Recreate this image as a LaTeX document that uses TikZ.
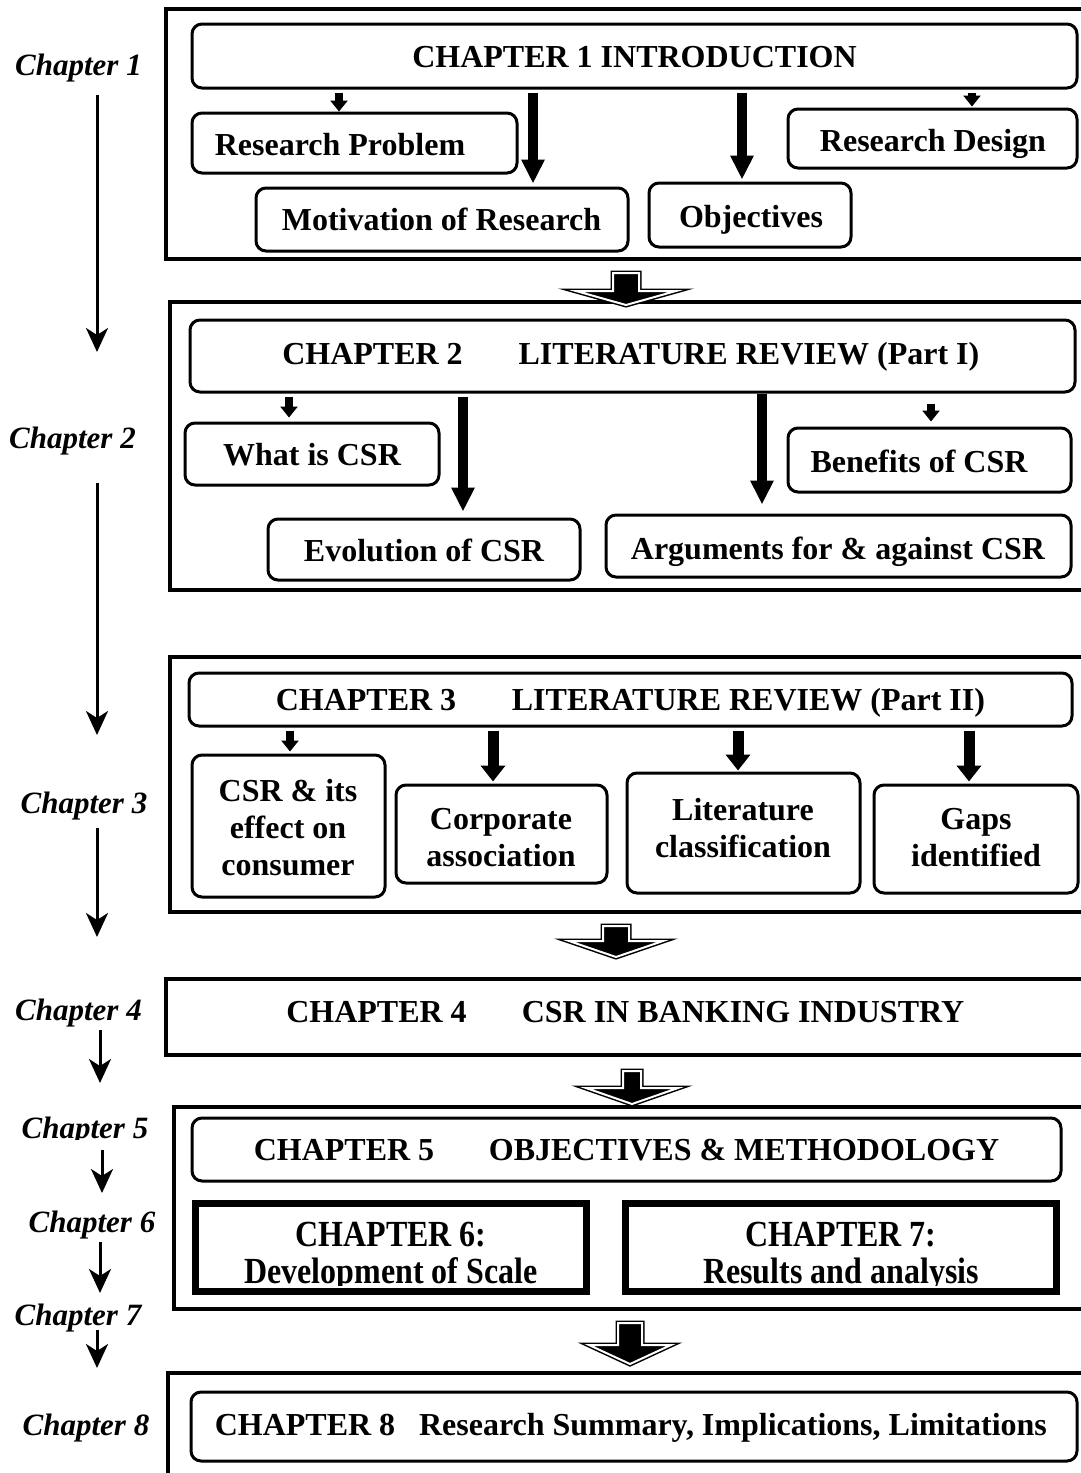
\documentclass[tikz,border=0pt]{standalone}
\usepackage{fontspec}
\setmainfont{Liberation Serif}
\usetikzlibrary{arrows.meta}
\newcommand{\blockarrow}[5]{%
  \draw[blk] ([xshift=-#2pt]#1) -- ++(2*#2,0) -- ++(0,#3) -- ++(#4-#2,0) -- ++(-#4,#5) -- ++(-#4,-#5) -- ++(#4-#2,0) -- cycle;}
\tikzset{
  outerbox/.style={draw, line width=4pt, inner sep=0pt},
  rbox/.style={draw, line width=3pt, rounded corners=10pt, inner sep=0pt},
  sqbox/.style={draw, line width=7pt, inner sep=0pt},
  txt/.style={font=\fontsize{32}{37}\selectfont\bfseries, inner sep=0pt, anchor=base},
  mtxt/.style={font=\fontsize{32}{37}\selectfont\bfseries, inner sep=0pt, align=center},
  side/.style={font=\fontsize{31}{36}\selectfont\bfseries\itshape, inner sep=0pt, anchor=base},
  sidearrow/.style={line width=3pt, -{Stealth[width=22pt,length=24pt,inset=7pt]}},
  fatS/.style={line width=8pt, shorten <=3pt, -{Triangle[width=17pt,length=11pt]}},
  fatL/.style={line width=10pt, shorten <=3pt, -{Triangle[width=22pt,length=24pt]}},
  fatM/.style={line width=11pt, shorten <=3pt, -{Triangle[width=24pt,length=16pt]}},
  blk/.style={fill=black, draw=black, double=white, double distance=2pt, line width=1.5pt},
}
\begin{document}
\begin{tikzpicture}[x=1pt,y=-1pt]
\useasboundingbox[fill=white] (0,0) rectangle (1081,1473);

% ---------- Box 1 ----------
\node[outerbox, minimum width=929pt, minimum height=250pt] (b1) at (630.5,134) {};
\node[rbox, minimum width=885pt, minimum height=64pt] (t1) at (634.5,56) {};
\node[txt] (t1a) at (634.5,67) {CHAPTER 1 INTRODUCTION};
\node[rbox, minimum width=325pt, minimum height=60pt] (rp) at (354.5,143) {};
\node[txt] (rpt) at (340,155) {Research Problem};
\node[rbox, minimum width=372pt, minimum height=63pt] (mr) at (442,219.5) {};
\node[txt] (mrt) at (441.5,230) {Motivation of Research};
\node[rbox, minimum width=202pt, minimum height=64pt] (ob) at (750,215) {};
\node[txt] (obt) at (751,227) {Objectives};
\node[rbox, minimum width=289pt, minimum height=59pt] (rd) at (932.5,138.5) {};
\node[txt] (rdt) at (933,151) {Research Design};

\coordinate (x11) at (339,0);
\coordinate (x12) at (533,0);
\coordinate (x13) at (742,0);
\coordinate (x14) at (972,0);
\draw[fatS] (t1.south -| x11) -- (x11 |- rp.north);
\draw[fatL, shorten >=3pt] (t1.south -| x12) -- (x12 |- mr.north);
\draw[fatL, shorten >=2pt] (t1.south -| x13) -- (x13 |- ob.north);
\draw[fatS, shorten >=1pt] (t1.south -| x14) -- (x14 |- rd.north);

% ---------- Box 2 ----------
\node[outerbox, minimum width=925pt, minimum height=288pt] (b2) at (632.5,446) {};
\node[rbox, minimum width=885pt, minimum height=72pt] (t2) at (632.5,356) {};
\node[txt] (t2a) at (372.5,364) {CHAPTER 2};
\node[txt] (t2b) at (749,364) {LITERATURE REVIEW (Part I)};
\node[rbox, minimum width=254pt, minimum height=62pt] (wc) at (312,454) {};
\node[txt] (wct) at (312,465) {What is CSR};
\node[rbox, minimum width=283pt, minimum height=64pt] (bc) at (929.5,460) {};
\node[txt] (bct) at (919,472) {Benefits of CSR};
\node[rbox, minimum width=312pt, minimum height=61pt] (ev) at (424,549.5) {};
\node[txt] (evt) at (424,561) {Evolution of CSR};
\node[rbox, minimum width=465pt, minimum height=62pt] (ar) at (838.5,546) {};
\node[txt] (art) at (838,559) {Arguments for \& against CSR};

\coordinate (x21) at (289,0);
\coordinate (x22) at (463,0);
\coordinate (x23) at (762,0);
\coordinate (x24) at (931,0);
\draw[fatS, shorten >=4pt] (t2.south -| x21) -- (x21 |- wc.north);
\draw[fatL, shorten >=6pt] (t2.south -| x22) -- (x22 |- ev.north);
\draw[fatL, shorten >=9pt, shorten <=0pt] (t2.south -| x23) -- (x23 |- ar.north);
\draw[fatS, shorten <=10pt, shorten >=5pt] (t2.south -| x24) -- (x24 |- bc.north);

% ---------- Box 3 ----------
\node[outerbox, minimum width=925pt, minimum height=255pt] (b3) at (632.5,784.5) {};
\node[rbox, minimum width=883pt, minimum height=53pt] (t3) at (630.5,699.5) {};
\node[txt] (t3a) at (366,710) {CHAPTER 3};
\node[txt] (t3b) at (748.5,710) {LITERATURE REVIEW (Part II)};
\node[rbox, minimum width=193pt, minimum height=142pt] (c1) at (288.5,826) {};
\node[mtxt] (c1t) at (288,828) {CSR \& its\\effect on\\consumer};
\node[rbox, minimum width=211pt, minimum height=98pt] (c2) at (501.5,834) {};
\node[mtxt] (c2t) at (501,838) {Corporate\\association};
\node[rbox, minimum width=233pt, minimum height=120pt] (c3) at (743.5,833) {};
\node[mtxt] (c3t) at (743,828) {Literature\\classification};
\node[rbox, minimum width=204pt, minimum height=108pt] (c4) at (976,839) {};
\node[mtxt] (c4t) at (976,838) {Gaps\\identified};

\coordinate (x31) at (290,0);
\coordinate (x32) at (493,0);
\coordinate (x33) at (738,0);
\coordinate (x34) at (969,0);
\draw[fatS, shorten >=2pt] (t3.south -| x31) -- (x31 |- c1.north);
\draw[fatM, shorten >=2pt] (t3.south -| x32) -- (x32 |- c2.north);
\draw[fatM, shorten >=1pt] (t3.south -| x33) -- (x33 |- c3.north);
\draw[fatM, shorten >=2pt] (t3.south -| x34) -- (x34 |- c4.north);

% ---------- Box 4 ----------
\node[outerbox, minimum width=929pt, minimum height=76pt] (b4) at (630.5,1017) {};
\node[txt] (t4a) at (376.5,1022) {CHAPTER 4};
\node[txt] (t4b) at (743,1022) {CSR IN BANKING INDUSTRY};

% ---------- Box 5 ----------
\node[outerbox, minimum width=921pt, minimum height=202pt] (b5) at (634.5,1208) {};
\node[rbox, minimum width=869pt, minimum height=63pt] (t5) at (626.5,1149.5) {};
\node[txt] (t5a) at (344,1160) {CHAPTER 5};
\node[txt] (t5b) at (744,1160) {OBJECTIVES \& METHODOLOGY};
\node[sqbox, minimum width=391pt, minimum height=88pt] (ch6) at (391,1247.5) {};
\node[sqbox, minimum width=431pt, minimum height=88pt] (ch7) at (841,1247.5) {};
\begin{scope}
  \clip (196,1205) rectangle (1056,1285);
  \node[txt] (c6a) at (391,1246) {\scalebox{1}[1.15]{CHAPTER 6:}};
  \node[txt] (c6b) at (391,1283) {\scalebox{1}[1.15]{Development of Scale}};
  \node[txt] (c7a) at (841,1246) {\scalebox{1}[1.15]{CHAPTER 7:}};
  \node[txt] (c7b) at (841,1283) {\scalebox{1}[1.15]{Results and analysis}};
\end{scope}

% ---------- Box 6 ----------
\node[outerbox, minimum width=927pt, minimum height=117pt] (b6) at (631.5,1431.5) {};
\node[rbox, minimum width=886pt, minimum height=69pt] (t8) at (634,1426.5) {};
\node[txt] (t8a) at (305,1435) {CHAPTER 8};
\node[txt] (t8b) at (733,1435) {Research Summary, Implications, Limitations};

% ---------- Block arrows between boxes ----------
\coordinate (ba1) at (626,273);
\coordinate (ba2) at (616,926);
\coordinate (ba3) at (632,1071);
\coordinate (ba4) at (630,1323);
\blockarrow{ba1}{13}{18}{50}{14}
\blockarrow{ba2}{13}{15}{47}{16}
\blockarrow{ba3}{9}{17}{46}{16}
\blockarrow{ba4}{12}{22}{41}{19}

% ---------- Side labels ----------
\node[side] (l1) at (78.5,75) {Chapter 1};
\node[side] (l2) at (72.5,448) {Chapter 2};
\node[side] (l3) at (84,813) {Chapter 3};
\node[side] (l4) at (78.5,1020) {Chapter 4};
\begin{scope}
  \clip (0,1100) rectangle (170,1139);
  \node[side] (l5) at (85,1138) {Chapter 5};
\end{scope}
\node[side] (l6) at (92,1232) {Chapter 6};
\node[side] (l7) at (78,1325) {Chapter 7};
\node[side] (l8) at (86,1435) {Chapter 8};

\coordinate (a1s) at (97,95);   \coordinate (a1e) at (97,352);
\coordinate (a2s) at (97,483);  \coordinate (a2e) at (97,735);
\coordinate (a3s) at (97,828);  \coordinate (a3e) at (97,937);
\coordinate (a4s) at (100,1030); \coordinate (a4e) at (100,1083);
\coordinate (a5s) at (102,1150); \coordinate (a5e) at (102,1193);
\coordinate (a6s) at (100,1242); \coordinate (a6e) at (100,1293);
\coordinate (a7s) at (97,1330); \coordinate (a7e) at (97,1368);
\draw[sidearrow] (a1s) -- (a1e);
\draw[sidearrow] (a2s) -- (a2e);
\draw[sidearrow] (a3s) -- (a3e);
\draw[sidearrow] (a4s) -- (a4e);
\draw[sidearrow] (a5s) -- (a5e);
\draw[sidearrow] (a6s) -- (a6e);
\draw[sidearrow] (a7s) -- (a7e);
\end{tikzpicture}
\end{document}
